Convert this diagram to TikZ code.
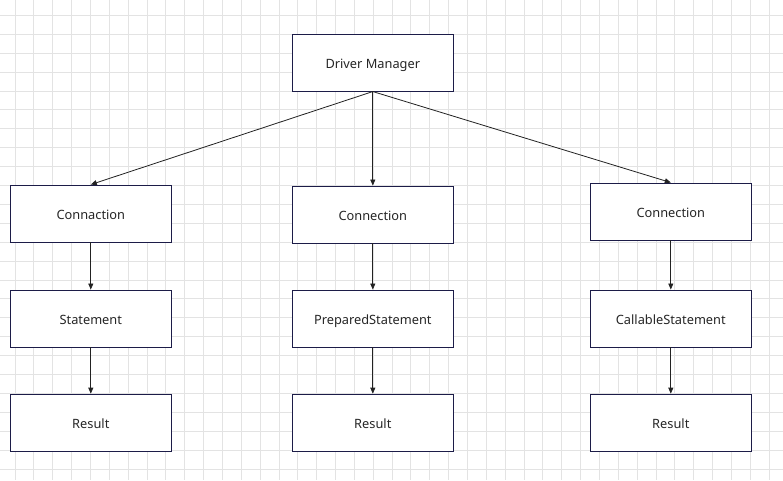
\documentclass[tikz,border=0pt]{standalone}
\usepackage{fontspec}
\setmainfont{Noto Sans}
\usetikzlibrary{arrows.meta}
\definecolor{gridc}{HTML}{E3E3E3}
\definecolor{boxc}{HTML}{1C1C48}
\definecolor{arrc}{HTML}{222222}
\begin{document}
\begin{tikzpicture}[x=1pt,y=-1pt,
  box/.style={draw=boxc,line width=0.9pt,fill=white,minimum width=161pt,minimum height=57pt,inner sep=0pt,text height=12pt,text depth=0pt,font=\fontsize{12.8}{14}\selectfont,text=black!85},
  conn/.style={draw=arrc,line width=0.8pt,-{Triangle[length=6pt,width=5pt]}}]
\useasboundingbox (0,0) rectangle (783,480);
\fill[white] (0,0) rectangle (783,480);
\foreach \i in {0,...,41} {\draw[gridc,line width=0.8pt] ({15+18.85*\i},0) -- ({15+18.85*\i},480);}
\foreach \j in {0,...,25} {\draw[gridc,line width=0.8pt] (0,{15.3+18.9*\j}) -- (783,{15.3+18.9*\j});}
\node[box] (dm) at (372.8,62.6) {Driver Manager};
\node[box] (c1) at (90.8,213.5) {Connaction};
\node[box] (c2) at (372.8,214.5) {Connection};
\node[box] (c3) at (670.8,211.5) {Connection};
\node[box] (s1) at (90.8,318.5) {Statement};
\node[box] (s2) at (372.8,318.5) {PreparedStatement};
\node[box] (s3) at (670.8,318.5) {CallableStatement};
\node[box] (r1) at (90.8,422.6) {Result};
\node[box] (r2) at (372.8,422.6) {Result};
\node[box] (r3) at (670.8,422.6) {Result};
\draw[conn] (dm.south) -- (c1.north);
\draw[conn] (dm.south) -- (c2.north);
\draw[conn] (dm.south) -- (c3.north);
\draw[conn] (c1.south) -- (s1.north);
\draw[conn] (c2.south) -- (s2.north);
\draw[conn] (c3.south) -- (s3.north);
\draw[conn] (s1.south) -- (r1.north);
\draw[conn] (s2.south) -- (r2.north);
\draw[conn] (s3.south) -- (r3.north);
\end{tikzpicture}
\end{document}
